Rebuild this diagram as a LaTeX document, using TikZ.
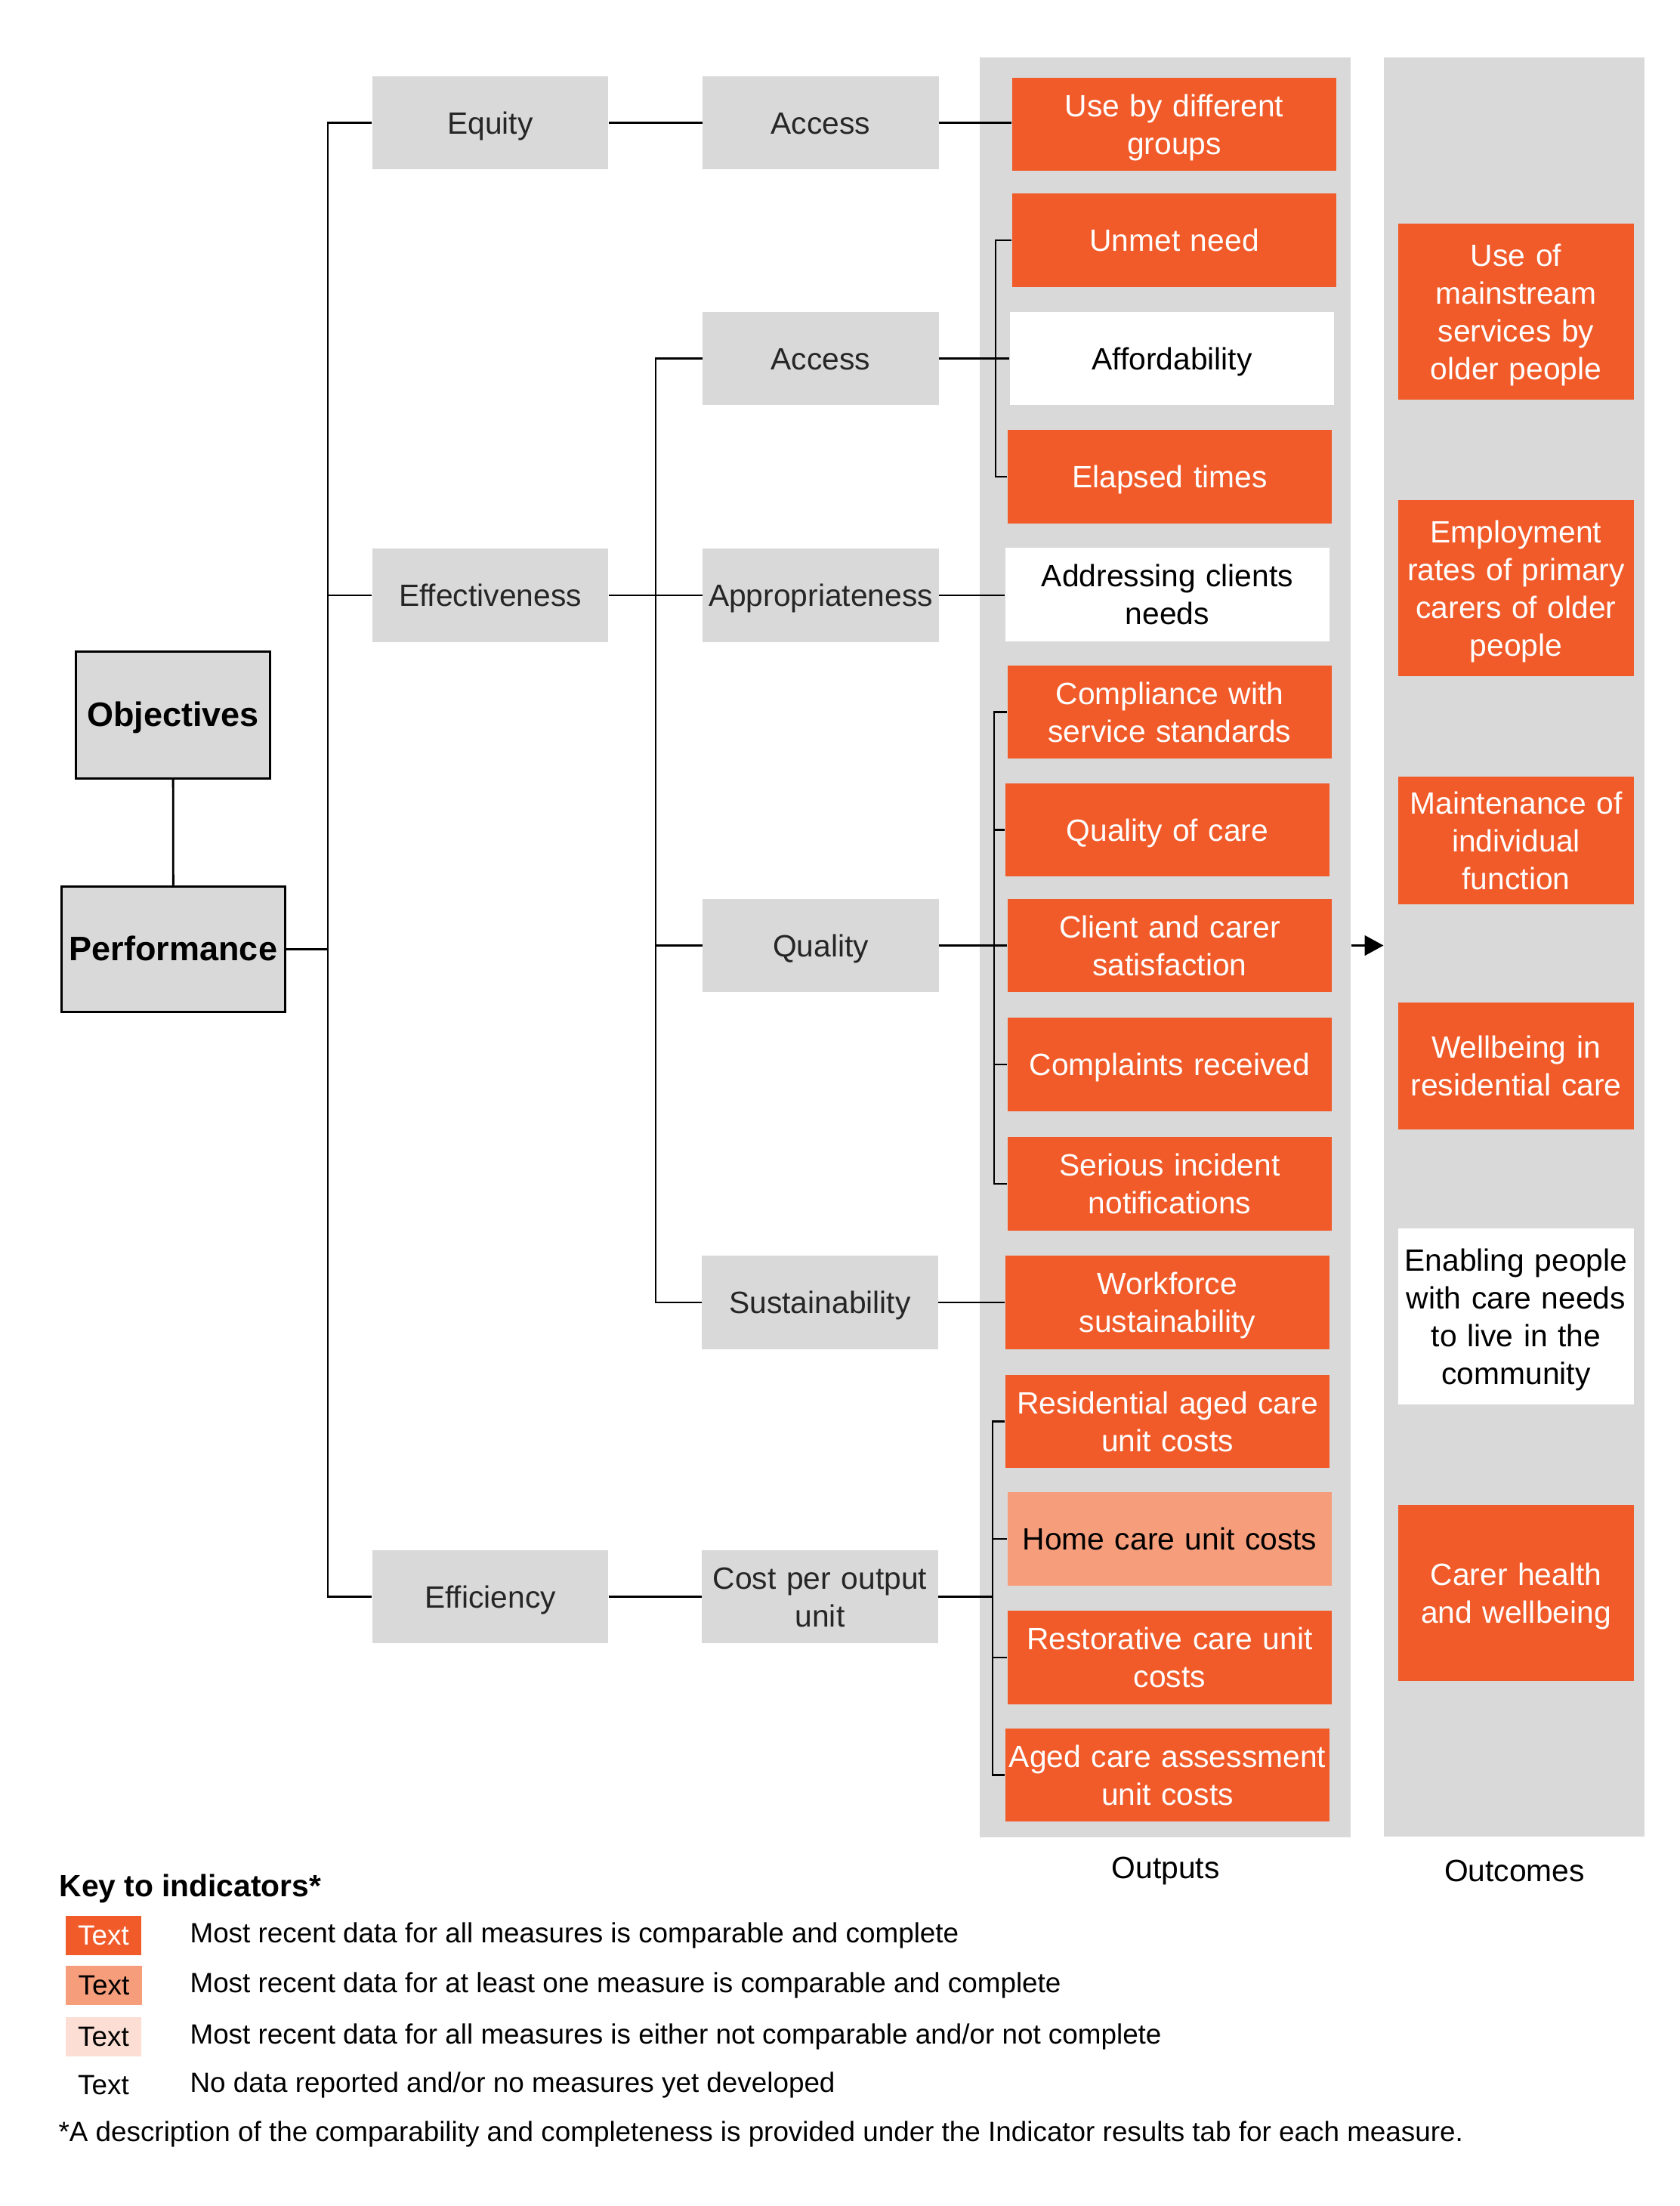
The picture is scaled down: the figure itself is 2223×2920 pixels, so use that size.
\documentclass[tikz,border=0pt]{standalone}
\usepackage{fontspec}
\setmainfont{Liberation Sans}
\usetikzlibrary{arrows.meta}
\definecolor{pcorange}{HTML}{F15A29}
\definecolor{pclight}{HTML}{F69E7C}
\definecolor{pcpale}{HTML}{FCDED4}
\definecolor{pcgrey}{HTML}{D9D9D9}
\definecolor{pctext}{HTML}{262626}
\newcommand\boxfont{\fontsize{14.5pt}{17.8pt}\selectfont}
\newcommand\keyfont{\fontsize{13.1pt}{15pt}\selectfont}
\newcommand\boxstrut{\rule[-3.1pt]{0pt}{16.8pt}}
\tikzset{
	link/.style={line width=1pt},
	boxtext/.style={execute at begin node=\boxstrut, execute at end node=\boxstrut},
	headbox/.style={draw, line width=1.1pt, fill=pcgrey, inner sep=0pt, boxtext, font=\fontsize{16pt}{19pt}\selectfont\bfseries},
	greybox/.style={fill=pcgrey, text=pctext, minimum width=3.9cm, text width=3.9cm, minimum height=1.54cm, inner sep=0pt, align=center, boxtext, font=\boxfont},
	outbox/.style={fill=pcorange, text=white, minimum width=5.36cm, text width=5.36cm, minimum height=1.54cm, inner sep=0pt, align=center, boxtext, font=\boxfont},
	outcomebox/.style={outbox, minimum width=3.9cm, text width=3.9cm, minimum height=2.91cm},
	nodata/.style={fill=white, text=black},
	somedata/.style={fill=pclight, text=black},
	panel/.style={fill=pcgrey, inner sep=0pt},
	swatch/.style={minimum width=1.25cm, minimum height=0.65cm, inner sep=0pt, font=\keyfont}
}
\begin{document}
\begin{tikzpicture}[x=0.0125cm, y=-0.0125cm]
	\useasboundingbox (0,0) rectangle (2223,2920);
	\node[panel, minimum width=6.14cm, minimum height=29.45cm] (outputs) at (1542.5,1254) {};
	\node[panel, minimum width=4.31cm, minimum height=29.44cm] (outcomes) at (2004.5,1253.5) {};
	\node[font=\boxfont] (outputslabel) at (1543,2476) {Outputs};
	\node[font=\boxfont] (outcomeslabel) at (2005,2476) {Outcomes};

	\node[headbox, minimum width=3.21cm, minimum height=2.1cm] (obj) at (229,946.5) {Objectives};
	\node[headbox, minimum width=3.7cm, minimum height=2.08cm] (perf) at (229.5,1256.5) {Performance};

	\node[greybox] (equity) at (649,162.5) {Equity};
	\node[greybox] (effectiveness) at (649,788) {Effectiveness};
	\node[greybox] (efficiency) at (649,2113.5) {Efficiency};

	\node[greybox] (access1) at (1086.5,162.5) {Access};
	\node[greybox] (access2) at (1086.5,474.5) {Access};
	\node[greybox] (approp) at (1086.5,788) {Appropriateness};
	\node[greybox] (quality) at (1086.5,1251.5) {Quality};
	\node[greybox] (sustain) at (1085.5,1724) {Sustainability};
	\node[greybox] (costunit) at (1085.5,2113.5) {Cost per output\\unit};

	\node[outbox] (usegroups) at (1554.5,164.5) {Use by different\\groups};
	\node[outbox] (unmet) at (1554.5,318) {Unmet need};
	\node[outbox, nodata] (afford) at (1551.5,474.5) {Affordability};
	\node[outbox] (elapsed) at (1548.5,631) {Elapsed times};
	\node[outbox, nodata] (addressing) at (1545.5,787) {Addressing clients\\needs};
	\node[outbox] (compliance) at (1548.5,942.5) {Compliance with\\service standards};
	\node[outbox] (qualcare) at (1545.5,1098.5) {Quality of care};
	\node[outbox] (client) at (1548.5,1251.5) {Client and carer\\satisfaction};
	\node[outbox] (complaints) at (1548.5,1409) {Complaints received};
	\node[outbox] (serious) at (1548.5,1567) {Serious incident\\notifications};
	\node[outbox] (workforce) at (1545.5,1724) {Workforce\\sustainability};
	\node[outbox] (residential) at (1545.5,1881.5) {Residential aged care\\unit costs};
	\node[outbox, somedata] (homecare) at (1548.5,2037) {Home care unit costs};
	\node[outbox] (restorative) at (1548.5,2194) {Restorative care unit\\costs};
	\node[outbox] (assessment) at (1545.5,2349.5) {Aged care assessment\\unit costs};

	\node[outcomebox] (mainstream) at (2007,412.5) {Use of\\mainstream\\services by\\older people};
	\node[outcomebox] (employment) at (2007,778.5) {Employment\\rates of primary\\carers of older\\people};
	\node[outcomebox, minimum height=2.11cm] (maintenance) at (2007,1112.5) {Maintenance of\\individual\\function};
	\node[outcomebox, minimum height=2.11cm] (wellbeing) at (2007,1411) {Wellbeing in\\residential care};
	\node[outcomebox, nodata] (enabling) at (2007,1742.5) {Enabling people\\with care needs\\to live in the\\community};
	\node[outcomebox] (carerhealth) at (2007,2108.5) {Carer health\\and wellbeing};

	\coordinate (spineA) at (434,0);
	\coordinate (spineB) at (868,0);
	\coordinate (brA) at (1318,0);
	\coordinate (brB) at (1316,0);
	\coordinate (brC) at (1314,0);

	\draw[link] (obj) -- (perf);
	\draw[link] (perf.east) -- (perf.east -| spineA);
	\draw[link] (equity.west) -| (spineA |- efficiency.west) -- (efficiency.west);
	\draw[link] (effectiveness.west) -- (effectiveness.west -| spineA);
	\draw[link] (equity.east) -- (access1.west);
	\draw[link] (effectiveness.east) -- (approp.west);
	\draw[link] (efficiency.east) -- (costunit.west);
	\draw[link] (access2.west) -| (spineB |- sustain.west) -- (sustain.west);
	\draw[link] (quality.west) -- (quality.west -| spineB);

	\draw[link] (access1.east) -- (access1.east -| usegroups.west);
	\draw[link] (access2.east) -- (afford.west);
	\draw[link] (unmet.west) -- (unmet.west -| brA) |- (elapsed.west);
	\draw[link] (approp.east) -- (approp.east -| addressing.west);
	\draw[link] (compliance.west) -- (compliance.west -| brB) |- (serious.west);
	\foreach \n in {qualcare, client, complaints}
		\draw[link] (\n.west) -- (\n.west -| brB);
	\draw[link] (quality.east) -- (quality.east -| brB);
	\draw[link] (sustain.east) -- (workforce.west);
	\draw[link] (residential.west) -- (residential.west -| brC) |- (assessment.west);
	\foreach \n in {homecare, restorative}
		\draw[link] (\n.west) -- (\n.west -| brC);
	\draw[link] (costunit.east) -- (costunit.east -| brC);

	\draw[link, -{Triangle[length=0.31cm, width=0.33cm]}] (outputs.east |- client) -- (outcomes.west |- client);

	\node[anchor=west, inner sep=0pt, font=\fontsize{14.5pt}{17pt}\selectfont\bfseries] (keytitle) at (78,2500) {Key to indicators*};
	\node[swatch, fill=pcorange, text=white] (keyA) at (137,2562) {Text};
	\node[swatch, fill=pclight] (keyB) at (137.5,2628) {Text};
	\node[swatch, fill=pcpale] (keyC) at (137,2695.5) {Text};
	\node[swatch] (keyD) at (137,2760) {Text};
	\node[anchor=west, font=\keyfont, inner sep=0pt] (keyAtext) at (251,2562) {Most recent data for all measures is comparable and complete};
	\node[anchor=west, font=\keyfont, inner sep=0pt] (keyBtext) at (251,2628) {Most recent data for at least one measure is comparable and complete};
	\node[anchor=west, font=\keyfont, inner sep=0pt] (keyCtext) at (251,2695.5) {Most recent data for all measures is either not comparable and/or not complete};
	\node[anchor=west, font=\keyfont, inner sep=0pt] (keyDtext) at (251,2760) {No data reported and/or no measures yet developed};
	\node[anchor=west, font=\keyfont, inner sep=0pt] (footnote) at (77,2825) {*A description of the comparability and completeness is provided under the Indicator results tab for each measure.};
\end{tikzpicture}
\end{document}
